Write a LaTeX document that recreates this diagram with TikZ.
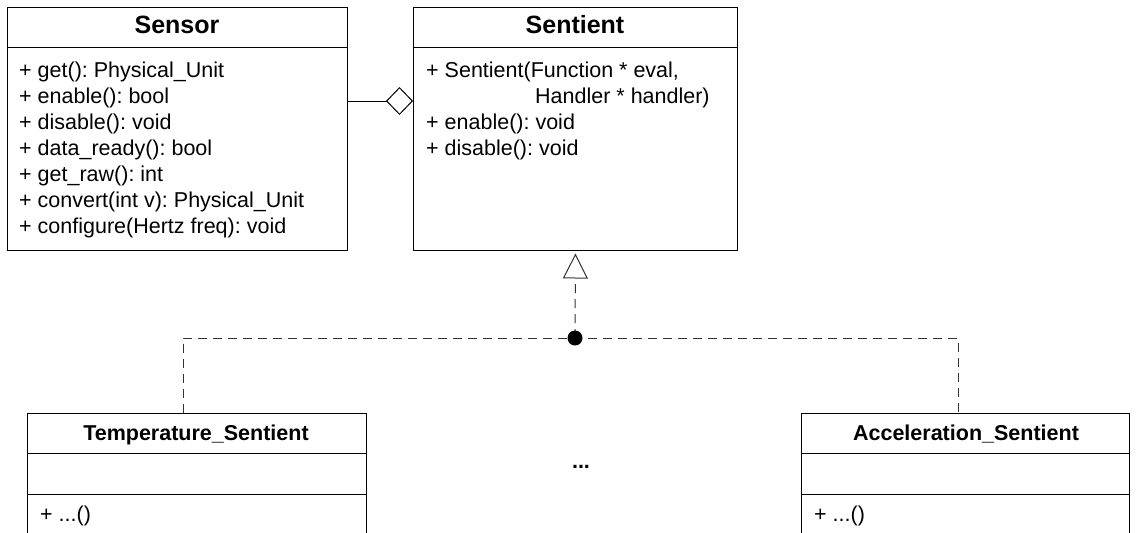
\documentclass[tikz,border=0pt]{standalone}
\usepackage{fontspec}
\setmainfont{Liberation Sans}
\usetikzlibrary{arrows.meta}
\frenchspacing
\begin{document}
\begin{tikzpicture}[x=1pt,y=1pt,
  classbox/.style={draw=black, line width=1pt, rectangle, inner sep=0pt, anchor=north west},
  sep/.style={draw=black, line width=1pt},
  bigtitle/.style={font=\fontsize{25}{30}\selectfont\bfseries, anchor=base, inner sep=0pt},
  smalltitle/.style={font=\fontsize{21.5}{26}\selectfont\bfseries, anchor=base, inner sep=0pt},
  member/.style={font=\fontsize{21.5}{26}\selectfont, anchor=base west, inner sep=0pt},
  realize/.style={draw=black!80, line width=1pt, dash pattern=on 9pt off 6pt},
  aggr/.style={draw=black, line width=1pt, -{Diamond[open, length=27pt, width=28pt, line width=1pt]}},
  genarrow/.style={draw=black!80, line width=1pt, dash pattern=on 9pt off 6pt, -{Triangle[open, length=25pt, width=25pt, line width=1pt, fill=white]}}
]
\useasboundingbox (0,0) rectangle (1136,-533);
\fill[white] (0,0) rectangle (1136,-533);

% Sensor
\node[classbox, minimum width=340pt, minimum height=243pt] (sensor) at (7,-7) {};
\draw[sep] (sensor.north west |- 0,-47) -- (sensor.north east |- 0,-47);
\node[bigtitle] (sensorT) at (177,-33) {Sensor};
\node[member] (s1) at (19,-77) {+ get(): Physical\_Unit};
\node[member] (s2) at (19,-103) {+ enable(): bool};
\node[member] (s3) at (19,-129) {+ disable(): void};
\node[member] (s4) at (19,-155) {+ data\_ready(): bool};
\node[member] (s5) at (19,-181) {+ get\_raw(): int};
\node[member] (s6) at (19,-207) {+ convert(int v): Physical\_Unit};
\node[member] (s7) at (19,-233) {+ configure(Hertz freq): void};

% Sentient
\node[classbox, minimum width=324pt, minimum height=243pt] (sentient) at (413,-7) {};
\draw[sep] (sentient.north west |- 0,-47) -- (sentient.north east |- 0,-47);
\node[bigtitle] (sentientT) at (575,-33) {Sentient};
\node[member] (t1) at (426,-77) {+ Sentient(Function * eval,};
\node[member] (t2) at (535,-103) {Handler * handler)};
\node[member] (t3) at (426,-129) {+ enable(): void};
\node[member] (t4) at (426,-155) {+ disable(): void};

% Temperature_Sentient
\node[classbox, minimum width=339pt, minimum height=140pt] (temp) at (27,-413) {};
\draw[sep] (temp.north west |- 0,-453) -- (temp.north east |- 0,-453);
\draw[sep] (temp.north west |- 0,-494) -- (temp.north east |- 0,-494);
\node[smalltitle] (tempT) at (196,-440) {Temperature\_Sentient};
\node[member] (tm) at (40,-521) {+ ...()};

% Acceleration_Sentient
\node[classbox, minimum width=328pt, minimum height=140pt] (accel) at (801,-413) {};
\draw[sep] (accel.north west |- 0,-453) -- (accel.north east |- 0,-453);
\draw[sep] (accel.north west |- 0,-494) -- (accel.north east |- 0,-494);
\node[smalltitle] (accelT) at (966,-440) {Acceleration\_Sentient};
\node[member] (am) at (814,-521) {+ ...()};

% ellipsis
\node[smalltitle] (dots) at (581,-468) {...};

% aggregation
\coordinate (aggS) at (sensor.east |- 0,-101);
\coordinate (aggT) at (sentient.west |- 0,-101);
\draw[aggr] (aggS) -- (aggT);

% generalization
\coordinate (junc) at (575,-338);
\coordinate (tempTop) at ([xshift=156pt]temp.north west);
\coordinate (accelTop) at ([xshift=-172pt]accel.north east);
\draw[realize] (tempTop) |- (junc) -| (accelTop);
\draw[genarrow, shorten >=2.5pt] (junc) -- (sentient.south);
\fill[black] (junc) circle (7.5pt);
\end{tikzpicture}
\end{document}
